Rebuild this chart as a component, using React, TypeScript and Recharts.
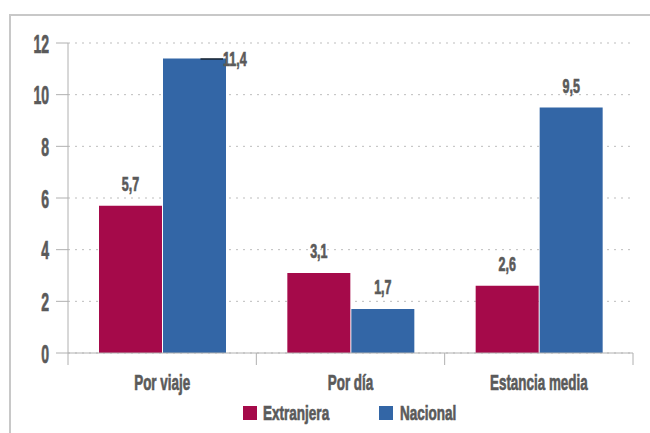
import React from 'react';
import { BarChart, Bar, XAxis, YAxis, CartesianGrid, Legend, LabelList } from 'recharts';

const categories = ['Por viaje', 'Por día', 'Estancia media'];
const extranjera = [5.7, 3.1, 2.6];
const nacional = [11.4, 1.7, 9.5];
const yTicks = [0, 2, 4, 6, 8, 10, 12];

const data = categories.map((name, i) => ({
  name,
  Extranjera: extranjera[i],
  Nacional: nacional[i],
}));

const FONT = '"Liberation Sans", Arial, sans-serif';
const TEXT = '#5a5a5a';
const RED = '#A50A4A';
const BLUE = '#3366A6';
const AXIS = '#b0b0b0';

const fmt = (v: number) => v.toFixed(1).replace('.', ',');

// condensed look: squeeze a bold sans horizontally
const Narrow = ({ x, y, size, sx, anchor = 'middle', children }: any) => (
  <text
    transform={`translate(${x},${y}) scale(${sx},1)`}
    textAnchor={anchor}
    fill={TEXT}
    stroke={TEXT}
    strokeWidth={0.7}
    fontFamily={FONT}
    fontWeight="bold"
    fontSize={size}
  >
    {children}
  </text>
);

const ValueTick = (props: any) => {
  const { x, y, payload } = props;
  return (
    <Narrow x={x} y={y + 9.5} size={26.5} sx={0.53} anchor="end">
      {payload.value}
    </Narrow>
  );
};

// x axis: label in the middle, tick marks on the category borders
const CategoryTick = (props: any) => {
  const { x, y, payload, index, visibleTicksCount } = props;
  const half = payload && payload.offset ? payload.offset : 94.3;
  const last = index === (visibleTicksCount || 3) - 1;
  return (
    <g>
      <line x1={x - half} y1={y - 8} x2={x - half} y2={y + 4} stroke={AXIS} />
      {last && <line x1={x + half} y1={y - 8} x2={x + half} y2={y + 4} stroke={AXIS} />}
      <Narrow x={x} y={y + 29} size={22} sx={0.61}>
        {payload.value}
      </Narrow>
    </g>
  );
};

const ValueLabel = (props: any) => {
  const { x, y, width, value } = props;
  // the tallest bar has its label beside it, at the top
  if (value > 11) {
    return (
      <g>
        <line x1={x + width / 2 + 6} y1={y + 0.5} x2={x + width - 3} y2={y + 0.5} stroke="#111" strokeWidth={1.2} />
        <Narrow x={x + width - 3} y={y + 7} size={19.5} sx={0.64} anchor="start">
          {fmt(value)}
        </Narrow>
      </g>
    );
  }
  return (
    <Narrow x={x + width / 2} y={y - 15} size={19.5} sx={0.64}>
      {fmt(value)}
    </Narrow>
  );
};

const LegendContent = () => (
  <svg width={650} height={24} style={{ display: 'block' }}>
    <rect x={243} y={5} width={14} height={14} fill={RED} />
    <Narrow x={263} y={19} size={20.5} sx={0.66} anchor="start">Extranjera</Narrow>
    <rect x={379} y={5} width={14} height={14} fill={BLUE} />
    <Narrow x={400} y={19} size={20.5} sx={0.66} anchor="start">Nacional</Narrow>
  </svg>
);

export default function App() {
  return (
    <div style={{ position: 'absolute', left: 0, top: 0, width: 650, height: 433, overflow: 'hidden', background: '#fff' }}>
      <div style={{ position: 'absolute', left: 9, top: 14, width: 700, height: 500, borderLeft: '2px solid #c8c8c8', borderTop: '2px solid #c8c8c8' }} />
      <div style={{ position: 'absolute', left: 0, top: 0 }}>
        <BarChart
          width={650}
          height={433}
          data={data}
          margin={{ top: 43, right: 17, left: 0, bottom: 0 }}
          barCategoryGap={31}
          barGap={1}
        >
          <CartesianGrid vertical={false} stroke="#bdbdbd" strokeDasharray="2 5" />
          <YAxis
            domain={[0, 12]}
            ticks={yTicks}
            width={68}
            tickSize={12}
            tickMargin={7}
            axisLine={{ stroke: AXIS }}
            tickLine={{ stroke: AXIS }}
            tick={<ValueTick />}
          />
          <XAxis
            dataKey="name"
            height={56}
            axisLine={{ stroke: AXIS }}
            tickLine={false}
            tick={<CategoryTick />}
            interval={0}
          />
          <Legend verticalAlign="bottom" height={24} wrapperStyle={{ top: 401, left: 0 }} content={<LegendContent />} />
          <Bar dataKey="Extranjera" fill={RED} isAnimationActive={false}>
            <LabelList dataKey="Extranjera" content={<ValueLabel />} />
          </Bar>
          <Bar dataKey="Nacional" fill={BLUE} isAnimationActive={false}>
            <LabelList dataKey="Nacional" content={<ValueLabel />} />
          </Bar>
        </BarChart>
      </div>
    </div>
  );
}
